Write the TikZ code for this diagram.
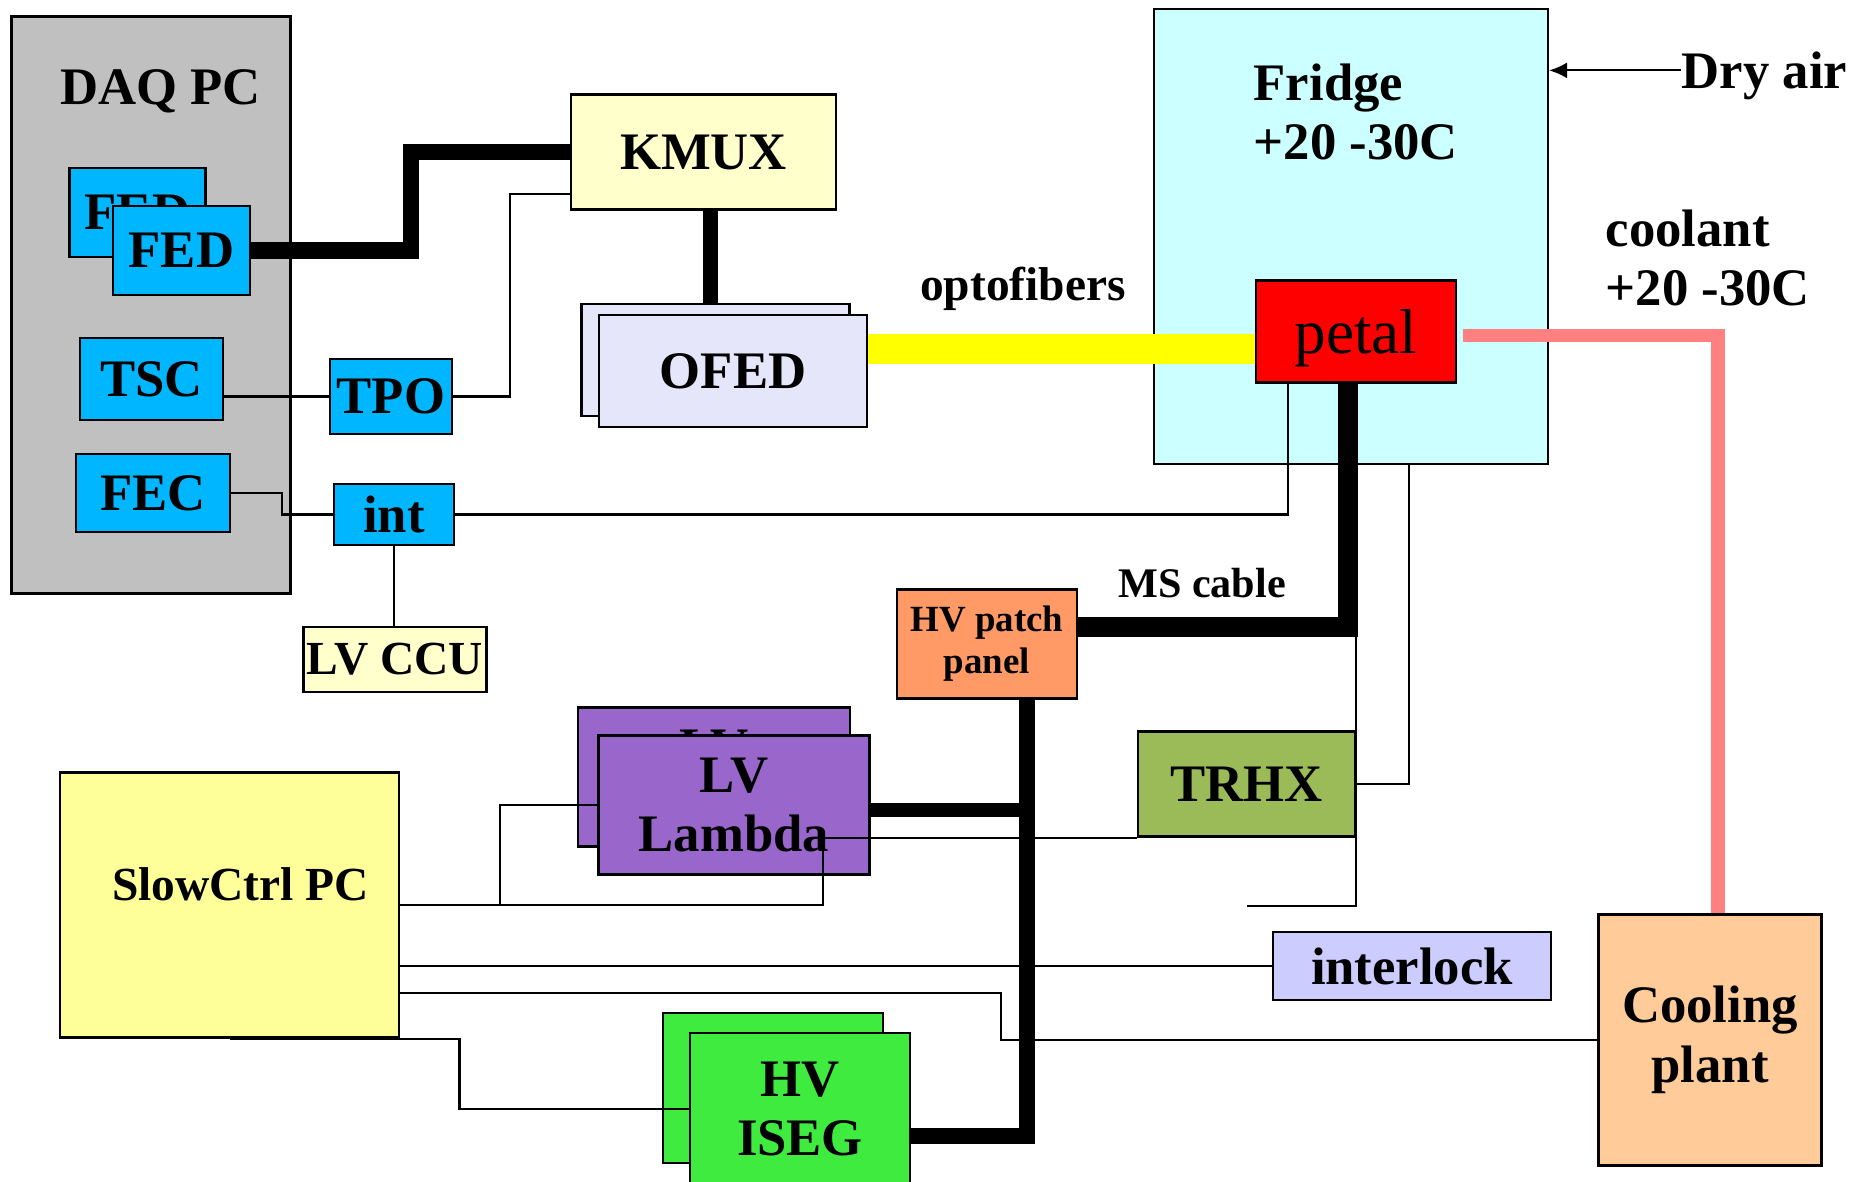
\documentclass[tikz,border=0pt]{standalone}
\usepackage{fontspec}
\setmainfont{Liberation Serif}
\usetikzlibrary{arrows.meta,calc,positioning}
\definecolor{daqgray}{HTML}{C0C0C0}
\definecolor{modblue}{HTML}{00B7FF}
\definecolor{cream}{HTML}{FFFFCC}
\definecolor{lavender}{HTML}{E6E6FA}
\definecolor{icecyan}{HTML}{CCFFFF}
\definecolor{patchorange}{HTML}{FF9966}
\definecolor{lambdapurple}{HTML}{9966CC}
\definecolor{trhxgreen}{HTML}{9BBB59}
\definecolor{paleyellow}{HTML}{FFFF99}
\definecolor{lockblue}{HTML}{CCCCFF}
\definecolor{peach}{HTML}{FFCC99}
\definecolor{isegreen}{HTML}{40EB40}
\definecolor{fiberyellow}{HTML}{FFFF00}
\definecolor{coolpink}{HTML}{FF8080}
\newcommand{\labelfont}{\fontsize{15}{16.9}\selectfont\bfseries}

\begin{document}
\begin{tikzpicture}[
  unit/.style={draw=black, line width=0.6pt, inner sep=0pt, align=center, font=\labelfont},
  caption/.style={inner sep=0pt, font=\labelfont},
  wire/.style={black, line width=0.6pt},
  cable/.style={black, line width=4.5pt},
  fiber/.style={fiberyellow, line width=8.5pt},
  coolpipe/.style={coolpink, line width=3.8pt}
]
  \useasboundingbox (0,0) rectangle (18.54,-11.81);

  % DAQ PC and its cards
  \node[unit, fill=daqgray, minimum width=2.79cm, minimum height=5.77cm] (daq) at (1.51,-3.05) {};
  \node[caption, anchor=base] (daqtitle) at (1.605,-1.05) {DAQ PC};
  \node[unit, fill=modblue, minimum width=1.36cm, minimum height=0.89cm] (fedback) at (1.375,-2.125) {FED};
  \node[unit, fill=modblue, minimum width=1.37cm, minimum height=0.89cm] (fed) at (1.815,-2.505) {FED};
  \node[unit, fill=modblue, minimum width=1.43cm, minimum height=0.82cm] (tsc) at (1.515,-3.79) {TSC};
  \node[unit, fill=modblue, minimum width=1.54cm, minimum height=0.78cm] (fec) at (1.53,-4.93) {FEC};
  \node[unit, fill=modblue, minimum width=1.22cm, minimum height=0.75cm] (tpo) at (3.91,-3.965) {TPO};
  \node[unit, fill=modblue, minimum width=1.20cm, minimum height=0.61cm] (int) at (3.94,-5.145) {int};
  \node[unit, fill=cream, minimum width=1.83cm, minimum height=0.65cm, font=\fontsize{13.5}{15}\selectfont\bfseries] (lvccu) at (3.95,-6.595) {LV CCU};

  % readout chain
  \node[unit, fill=cream, minimum width=2.65cm, minimum height=1.15cm] (kmux) at (7.035,-1.52) {KMUX};
  \node[unit, fill=lavender, minimum width=2.68cm, minimum height=1.12cm] (ofedback) at (7.155,-3.60) {};
  \node[unit, fill=lavender, minimum width=2.68cm, minimum height=1.12cm] (ofed) at (7.33,-3.71) {OFED};

  % fridge
  \node[unit, fill=icecyan, minimum width=3.94cm, minimum height=4.55cm] (fridge) at (13.51,-2.365) {};
  \node[caption, anchor=north west, align=left] (fridgetitle) at (12.53,-0.63) {Fridge\\+20 -30C};
  \node[unit, fill=red, minimum width=2.0cm, minimum height=1.02cm, text depth=0pt, font=\fontsize{18}{20}\selectfont] (petal) at (13.56,-3.315) {petal};
  \node[caption, anchor=base west] (dryair) at (16.81,-0.89) {Dry air};
  \node[caption, anchor=north west, align=left] (coolant) at (16.05,-2.09) {coolant\\+20 -30C};
  \node[caption, anchor=base, font=\fontsize{13.5}{15}\selectfont\bfseries] (optofibers) at (10.23,-3.00) {optofibers};
  \node[caption, anchor=base, font=\fontsize{12}{14}\selectfont\bfseries] (mscable) at (12.02,-5.97) {MS cable};

  % slow control side
  \node[unit, fill=patchorange, minimum width=1.80cm, minimum height=1.09cm, font=\fontsize{10.5}{12}\selectfont\bfseries] (hvpatch) at (9.87,-6.44) {HV patch\\panel};
  \node[unit, fill=lambdapurple, minimum width=2.72cm, minimum height=1.39cm] (lvback) at (7.14,-7.77) {LV\\Lambda};
  \node[unit, fill=lambdapurple, minimum width=2.71cm, minimum height=1.39cm] (lv) at (7.34,-8.05) {LV\\Lambda};
  \node[unit, fill=trhxgreen, minimum width=2.17cm, minimum height=1.05cm] (trhx) at (12.465,-7.84) {TRHX};
  \node[unit, fill=paleyellow, minimum width=3.39cm, minimum height=2.65cm] (slowctrl) at (2.295,-9.05) {};
  \node[caption, anchor=base, font=\fontsize{13.5}{15}\selectfont\bfseries] (slowtitle) at (2.405,-9.00) {SlowCtrl PC};
  \node[unit, fill=lockblue, minimum width=2.78cm, minimum height=0.68cm] (interlock) at (14.12,-9.66) {interlock};
  \node[unit, fill=peach, minimum width=2.23cm, minimum height=2.51cm] (cooling) at (17.10,-10.40) {Cooling\\plant};
  \node[unit, fill=isegreen, minimum width=2.20cm, minimum height=1.50cm] (hvback) at (7.73,-10.88) {};
  \node[unit, fill=isegreen, minimum width=2.20cm, minimum height=1.52cm] (hv) at (8.00,-11.09) {HV\\ISEG};

  % connections
  \draw[cable, line width=4.8pt] (fed.east) -- ++(1.6,0) |- (kmux.west);
  \draw[wire] ([yshift=1.7mm]kmux.south west) -- ++(-0.6,0) |- (tpo.east);
  \draw[cable, line width=4.1pt] ([xshift=0.7mm]kmux.south) -- ([xshift=0.7mm]kmux.south |- ofedback.north);
  \draw[fiber] ([yshift=2.2mm]ofed.east) -- ([yshift=2.2mm]ofed.east -| petal.west);
  \draw[wire] (tsc.east |- tpo.west) -- (tpo.west);
  \draw[wire] (fec.east) -- ++(0.51,0) |- (int.west);
  \draw[wire] (int.east) -| ([xshift=-6.8mm]petal.south);
  \draw[wire] (int.south) -- (int.south |- lvccu.north);
  \draw[wire, -{Latex[length=1.8mm,width=1.6mm]}] ([yshift=0.6mm]dryair.west) -- ([yshift=0.6mm]dryair.west -| fridge.east);
  \draw[coolpipe] ([xshift=0.6mm,yshift=-0.4mm]petal.east) -| ([xshift=0.8mm]cooling.north);
  \draw[cable, line width=5.7pt] ([xshift=-0.8mm]petal.south) |- ([yshift=1.7mm]hvpatch.east);
  \draw[wire] ([yshift=0.96cm]trhx.north east) -- ([yshift=-0.68cm]trhx.south east) -- ++(-1.09,0);
  \draw[wire] ([xshift=5.8mm]fridge.south) |- (trhx.east);
  \coordinate (hvbus) at ([xshift=4mm]hvpatch.south);
  \draw[cable, line width=4.3pt] (hvbus) |- ([yshift=-2.7mm]hv.east);
  \draw[cable, line width=4pt] ([yshift=-0.5mm]lv.east) -- ([yshift=-0.5mm]lv.east -| hvbus);
  \draw[wire] (slowctrl.east) -- ++(1.0,0) |- (lv.west);
  \draw[wire] (slowctrl.east) -- ++(4.23,0) |- (trhx.south west);
  \draw[wire] (slowctrl.east |- interlock.west) -- (interlock.west);
  \draw[wire] ([yshift=-0.88cm]slowctrl.east) -- ++(6.01,0) |- (cooling.west);
  \draw[wire] (slowctrl.south) -- ++(2.3,0) |- (hv.west);
\end{tikzpicture}
\end{document}
